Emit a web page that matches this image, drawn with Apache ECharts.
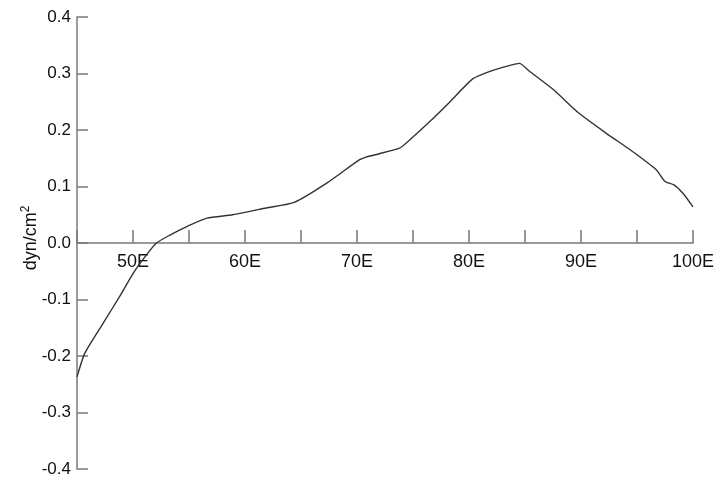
<!DOCTYPE html>
<html>
<head>
<meta charset="utf-8">
<script src="https://cdn.jsdelivr.net/npm/echarts@6/dist/echarts.min.js"></script>
<style>html,body{margin:0;padding:0;background:#fff}#c{width:723px;height:481px}</style>
</head>
<body>
<div id="c"></div>
<script>
var longitudes = [45, 45.7, 47.3, 48.8, 50, 51.2, 52.1, 53.3, 54.8, 56.6, 58.9, 61.9, 64.4, 67.3, 70.2, 70.8, 72, 73.8, 74.4, 76.5, 78.2, 80.3, 81.5, 82.7, 84.2, 84.5, 85.4, 87.5, 89.8, 92.2, 94.6, 96.7, 97.5, 98.3, 99.1, 100];
var stress = [-0.237, -0.195, -0.143, -0.095, -0.054, -0.021, 0, 0.014, 0.029, 0.044, 0.05, 0.062, 0.072, 0.106, 0.147, 0.152, 0.158, 0.168, 0.177, 0.215, 0.248, 0.29, 0.301, 0.309, 0.317, 0.318, 0.304, 0.272, 0.23, 0.195, 0.162, 0.13, 0.109, 0.103, 0.088, 0.064];
var yTicks = [-0.4, -0.3, -0.2, -0.1, 0, 0.1, 0.2, 0.3, 0.4];
var yNameMain = 'dyn/cm';
var yNameSup = '2';

var data = longitudes.map(function (x, i) { return [x, stress[i]]; });
var chart = echarts.init(document.getElementById('c'));
var axisCol = '#7a7a7a';
chart.setOption({
  animation: false,
  grid: { left: 77, right: 30, top: 17, bottom: 12, containLabel: false, outerBoundsMode: 'none' },
  graphic: [{
    type: 'text', x: 31, y: 238, rotation: Math.PI / 2,
    style: {
      text: '{a|' + yNameMain + '}{s|' + yNameSup + '}',
      align: 'center', verticalAlign: 'middle',
      rich: {
        a: { fontFamily: 'Liberation Sans', fontSize: 18, fill: '#111', lineHeight: 22 },
        s: { fontFamily: 'Liberation Sans', fontSize: 12, fill: '#111', verticalAlign: 'top', lineHeight: 22 }
      }
    }
  }],
  xAxis: {
    type: 'value', min: 45, max: 100, interval: 5,
    position: 'bottom', offset: -226,
    axisLine: { onZero: false, lineStyle: { color: axisCol, width: 1.5 } },
    axisTick: { inside: true, length: 13, lineStyle: { color: axisCol, width: 1.5 } },
    axisLabel: {
      margin: 10, color: '#111', fontFamily: 'Liberation Sans', fontSize: 18,
      formatter: function (v) { return v % 10 === 0 ? v + 'E' : ''; }
    },
    splitLine: { show: false }
  },
  yAxis: {
    type: 'value', min: yTicks[0], max: yTicks[yTicks.length - 1], interval: 0.1,
    axisLine: { show: true, lineStyle: { color: axisCol, width: 1.5 } },
    axisTick: { show: true, inside: true, length: 11, lineStyle: { color: axisCol, width: 1.5 } },
    axisLabel: {
      margin: 6, color: '#111', fontFamily: 'Liberation Sans', fontSize: 17,
      formatter: function (v) { return (Math.abs(v) < 1e-9 ? 0 : v).toFixed(1); }
    },
    splitLine: { show: false }
  },
  series: [{
    type: 'line', data: data, showSymbol: false, smooth: 0.2,
    lineStyle: { color: '#333', width: 1.4 }
  }]
});
</script>
</body>
</html>
